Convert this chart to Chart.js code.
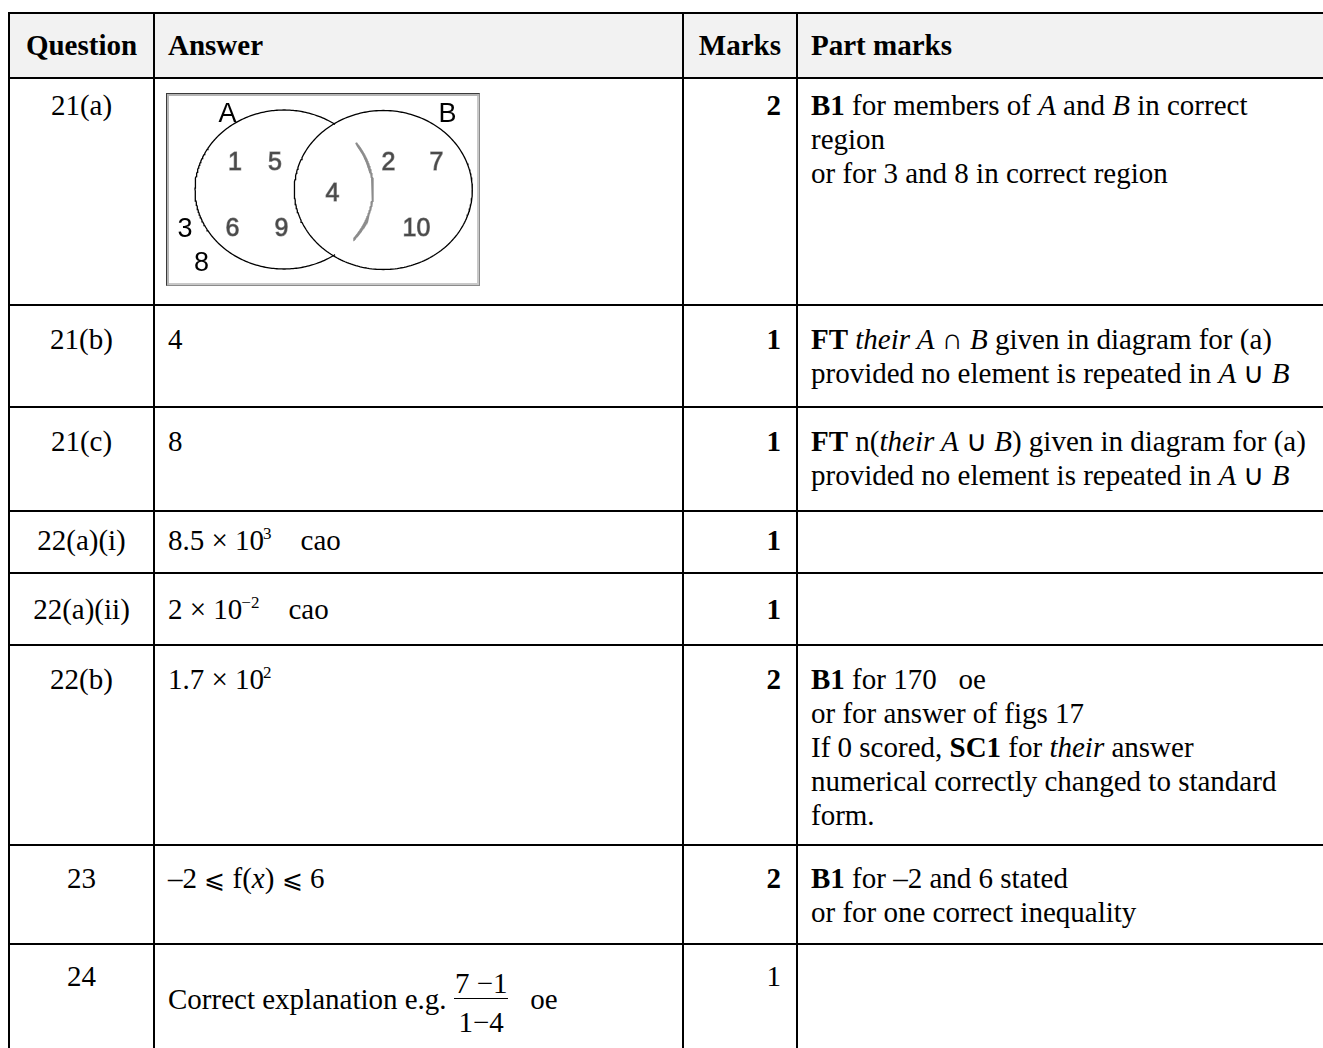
<!DOCTYPE html>
<html><head><meta charset="utf-8">
<script src="https://cdn.jsdelivr.net/npm/chart.js@4.4.1/dist/chart.umd.min.js"></script>
<style>
html,body{margin:0;padding:0;background:#fff;width:1323px;height:1048px;overflow:hidden;}
#page{position:relative;width:1323px;height:1048px;font-family:"Liberation Serif","Times New Roman",serif;font-size:29px;color:#000;line-height:34px;}
.ln{position:absolute;background:#000;}
.hdrbg{position:absolute;background:#f2f2f2;}
.cell{position:absolute;white-space:nowrap;}
.hdr{font-weight:bold;}
.mk{font-weight:bold;}
.mk.plain{font-weight:normal;}
.le{font-family:"DejaVu Serif","Liberation Serif",serif;font-size:25px;}
sup{font-size:17px;line-height:0;vertical-align:11px;margin-left:-1px;}
.frac{display:inline-block;vertical-align:-23px;text-align:center;}
.frac .num{display:block;line-height:30px;border-bottom:1px solid #000;padding:0 1px;}
.frac .den{display:block;line-height:30px;padding-top:8px;}
#venn{position:absolute;left:166px;top:93px;width:314px;height:193px;}
#venn canvas{position:absolute;left:0;top:0;}
#vennFrame{position:absolute;left:166px;top:93px;width:314px;height:193px;box-sizing:border-box;border:1px solid #3a3a3a;border-right-color:#8a8a8a;border-bottom-color:#8a8a8a;box-shadow:inset 2px 2px 0 #b4b4b4, inset -2px -2px 0 #c8c8c8;pointer-events:none;}
</style></head>
<body>
<div id="page"></div>
<script>
// ---- table content ----
const headers = ['Question', 'Answer', 'Marks', 'Part marks'];
const questions = ['21(a)', '21(b)', '21(c)', '22(a)(i)', '22(a)(ii)', '22(b)', '23', '24'];
const answers = [
  '',
  '4',
  '8',
  '8.5 × 10<sup>3</sup>&nbsp;&nbsp;&nbsp; cao',
  '2 × 10<sup>−2</sup>&nbsp;&nbsp;&nbsp; cao',
  '1.7 × 10<sup>2</sup>',
  '–2 <span class="le">⩽</span> f(<i>x</i>) <span class="le">⩽</span> 6',
  'Correct explanation e.g. <span class="frac"><span class="num">7 −1</span><span class="den">1−4</span></span>&nbsp;&nbsp; oe'
];
const marks = ['2', '1', '1', '1', '1', '2', '2', '1'];
const marksBold = [true, true, true, true, true, true, true, false];
const partMarks = [
  '<b>B1</b> for members of <i>A</i> and <i>B</i> in correct<br>region<br>or for 3 and 8 in correct region',
  '<b>FT</b> <i>their A</i> ∩ <i>B</i> given in diagram for (a)<br>provided no element is repeated in <i>A</i> ∪ <i>B</i>',
  '<b>FT</b> n(<i>their A</i> ∪ <i>B</i>) given in diagram for (a)<br>provided no element is repeated in <i>A</i> ∪ <i>B</i>',
  '',
  '',
  '<b>B1</b> for 170&nbsp;&nbsp; oe<br>or for answer of figs 17<br>If 0 scored, <b>SC1</b> for <i>their</i> answer<br>numerical correctly changed to standard<br>form.',
  '<b>B1</b> for –2 and 6 stated<br>or for one correct inequality',
  ''
];

// ---- Venn diagram content (21(a)) ----
const vennSetNames = ['A', 'B'];
const vennOnlyA = ['1', '5', '6', '9'];
const vennBoth = ['4'];
const vennOnlyB = ['2', '7', '10'];
const vennNeither = ['3', '8'];

// ---- layout (positions / sizes, not data) ----
const colEdges = [9, 154, 683, 797, 1400];
const rowEdges = [12, 78, 305, 407, 511, 573, 645, 845, 944, 1100];
const baseOffsets = [43, 37, 44, 44, 39, 46, 44, 43, 42]; // header + 8 rows
const answerTopOverride = {8: 24};
const vennLabelXY = {
  A: [61.5, 19], B: [281.5, 19],
  '1': [69, 68], '5': [109, 68], '6': [66.5, 134], '9': [115.5, 134],
  '4': [166.5, 99],
  '2': [222.5, 68], '7': [270.5, 68], '10': [250.5, 134],
  '3': [19, 134.5], '8': [35.5, 168]
};
const vennEllipses = [
  {cx: 118, cy: 96.5, rx: 89, ry: 79.5},
  {cx: 217.3, cy: 97, rx: 89, ry: 79.5}
];
const ASC = 26.8; // baseline offset inside 34px line box

const page = document.getElementById('page');
function add(cls, css, html) {
  const d = document.createElement('div');
  d.className = cls;
  Object.assign(d.style, css);
  if (html !== undefined) d.innerHTML = html;
  page.appendChild(d);
  return d;
}
// header background
add('hdrbg', {left: colEdges[0] + 'px', top: rowEdges[0] + 'px', width: (1323 - colEdges[0]) + 'px', height: (rowEdges[1] - rowEdges[0]) + 'px'});

function placeRow(r, cellsHtml, classes) {
  const top = rowEdges[r];
  const b = baseOffsets[r];
  add('cell ' + (classes[0] || ''), {left: colEdges[0] + 'px', width: (colEdges[1] - colEdges[0]) + 'px', textAlign: 'center', top: (top + b - ASC) + 'px'}, cellsHtml[0]);
  const ab = (answerTopOverride[r] !== undefined) ? answerTopOverride[r] : b - ASC;
  add('cell ' + (classes[1] || ''), {left: (colEdges[1] + 14) + 'px', top: (top + ab) + 'px'}, cellsHtml[1]);
  add('cell ' + (classes[2] || ''), {left: colEdges[2] + 'px', width: (colEdges[3] - 16 - colEdges[2]) + 'px', textAlign: 'right', top: (top + b - ASC) + 'px'}, cellsHtml[2]);
  add('cell ' + (classes[3] || ''), {left: (colEdges[3] + 14) + 'px', top: (top + b - ASC) + 'px'}, cellsHtml[3]);
}
placeRow(0, headers, ['hdr', 'hdr', 'hdr', 'hdr']);
for (let i = 0; i < questions.length; i++) {
  placeRow(i + 1, [questions[i], answers[i], marks[i], partMarks[i]], ['', '', marksBold[i] ? 'mk' : 'mk plain', '']);
}
// grid lines
add('ln', {left: colEdges[0] + 'px', top: rowEdges[0] + 'px', width: (1323 - colEdges[0]) + 'px', height: '1.5px'});
for (let r = 1; r < rowEdges.length - 1; r++) {
  add('ln', {left: (colEdges[0] - 1) + 'px', top: (rowEdges[r] - 1) + 'px', width: (1330 - colEdges[0]) + 'px', height: '2px'});
}
for (let c = 0; c < 4; c++) {
  add('ln', {left: (colEdges[c] - 1) + 'px', top: rowEdges[0] + 'px', width: '2px', height: (1048 - rowEdges[0]) + 'px'});
}

// Venn canvas
const vdiv = add('', {}, '');
vdiv.id = 'venn';
const cv = document.createElement('canvas');
cv.width = 314; cv.height = 193;
cv.style.width = '314px'; cv.style.height = '193px';
vdiv.appendChild(cv);
const vf = add('', {}, '');
vf.id = 'vennFrame';

function ellipsePts(e, a0, a1) {
  const pts = [];
  const n = 240;
  for (let k = 0; k <= n; k++) {
    const t = (a0 + (a1 - a0) * k / n) * Math.PI / 180;
    pts.push({x: e.cx + e.rx * Math.cos(t), y: e.cy + e.ry * Math.sin(t)});
  }
  return pts;
}
function labelSet(list, font, color, soft) {
  return {
    type: 'scatter', data: list.map(s => ({x: vennLabelXY[s][0], y: vennLabelXY[s][1]})),
    pointRadius: 0, showLine: false, labels: list, labelFont: font, labelColor: color, soft: soft
  };
}
const vennLabels = {
  id: 'vennLabels',
  afterDatasetsDraw(chart) {
    const ctx = chart.ctx;
    chart.data.datasets.forEach((ds, i) => {
      if (!ds.labels) return;
      const meta = chart.getDatasetMeta(i);
      meta.data.forEach((pt, j) => {
        ctx.save();
        ctx.font = ds.labelFont;
        ctx.fillStyle = ds.labelColor;
        ctx.textAlign = 'center';
        ctx.textBaseline = 'alphabetic';
        const size = parseFloat(ds.labelFont.match(/(\d+(\.\d+)?)px/)[1]);
        const y = pt.y + size * 0.716 / 2;
        if (ds.soft) {
          ctx.strokeStyle = '#8a8a8a';
          ctx.lineWidth = 1.1;
          ctx.strokeText(ds.labels[j], pt.x, y);
        }
        ctx.fillText(ds.labels[j], pt.x, y);
        ctx.restore();
      });
    });
  }
};
new Chart(cv, {
  type: 'scatter',
  data: {
    datasets: [
      {data: ellipsePts(vennEllipses[0], 55, 305), showLine: true, borderColor: '#000', borderWidth: 1.3, pointRadius: 0, fill: false},
      {data: ellipsePts(vennEllipses[0], -36, 38), showLine: true, borderColor: '#8c8c8c', borderWidth: 2, pointRadius: 0, fill: false},
      {data: ellipsePts(vennEllipses[1], 0, 360), showLine: true, borderColor: '#000', borderWidth: 1.3, pointRadius: 0, fill: false},
      labelSet(vennSetNames, '27px "Liberation Sans", Arial, sans-serif', '#000', false),
      labelSet(vennOnlyA, '25px "Liberation Sans", Arial, sans-serif', '#4a4a4a', true),
      labelSet(vennBoth, '25px "Liberation Sans", Arial, sans-serif', '#4a4a4a', true),
      labelSet(vennOnlyB, '25px "Liberation Sans", Arial, sans-serif', '#4a4a4a', true),
      labelSet(vennNeither, '27px "Liberation Sans", Arial, sans-serif', '#000', false)
    ]
  },
  options: {
    responsive: false, animation: false, devicePixelRatio: 1,
    layout: {padding: 0},
    plugins: {legend: {display: false}, tooltip: {enabled: false}},
    scales: {
      x: {type: 'linear', min: 0, max: 314, display: false},
      y: {type: 'linear', min: 0, max: 193, reverse: true, display: false}
    }
  },
  plugins: [vennLabels]
});
</script>
</body></html>
